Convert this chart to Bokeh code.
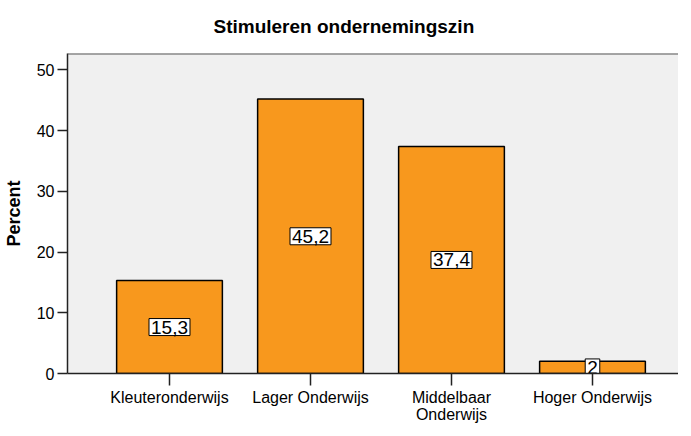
from bokeh.plotting import figure
from bokeh.models import ColumnDataSource, FixedTicker, Range1d, Span, Title
from bokeh.core.properties import value
from bokeh.embed import file_html
from bokeh.resources import INLINE

# ---- data ----
title_text = "Stimuleren ondernemingszin"
categories = ["Kleuteronderwijs", "Lager Onderwijs", "Middelbaar Onderwijs", "Hoger Onderwijs"]
tick_labels = ["Kleuteronderwijs", "Lager Onderwijs", "Middelbaar\nOnderwijs", "Hoger Onderwijs"]
percent = [15.3, 45.2, 37.4, 2.0]
y_ticks = [0, 10, 20, 30, 40, 50]

FONT = "Liberation Sans"
xs = list(range(1, len(categories) + 1))
Y_MAX = 52.7

src = ColumnDataSource(dict(
    x=xs,
    top=percent,
    mid=[v / 2 for v in percent],
    txt=[f"{v:g}".replace(".", ",") for v in percent],
    cat=categories,
))

p = figure(frame_width=611, frame_height=320, output_backend="svg", toolbar_location=None,
           x_range=Range1d(0.2766, 4.61), y_range=Range1d(0, Y_MAX),
           min_border_left=64, min_border_right=0, min_border_top=53, min_border_bottom=47)

p.background_fill_color = "#F0F0F0"
p.border_fill_color = "white"
p.outline_line_color = None
p.xgrid.visible = False
p.ygrid.visible = False

p.add_layout(Title(text=title_text, align="left", offset=146, standoff=30,
                   vertical_align="top",
                   text_font=FONT, text_font_size="19px", text_font_style="bold",
                   text_color="black"), "above")

p.vbar(x="x", top="top", bottom=0, width=0.75, source=src,
       fill_color="#F8981D", line_color="black", line_width=1.5)

p.text(x="x", y="mid", text="txt", source=src,
       text_align="center", text_baseline="middle",
       text_font=value(FONT), text_font_size="19px", text_color="black",
       background_fill_color="white", border_line_color="black",
       border_line_width=1, padding=2)

# top border of the plot area
p.add_layout(Span(location=Y_MAX, dimension="width", line_color="#555555", line_width=2))

# y axis
ya = p.yaxis[0]
ya.ticker = FixedTicker(ticks=y_ticks)
ya.minor_tick_line_color = None
ya.major_tick_out = 10
ya.major_tick_in = 0
ya.major_label_standoff = 3
ya.major_label_text_font = FONT
ya.major_label_text_font_size = "16px"
ya.major_label_text_color = "black"
ya.axis_label = "Percent"
ya.axis_label_text_font = FONT
ya.axis_label_text_font_size = "18px"
ya.axis_label_text_font_style = "bold"
ya.axis_label_text_color = "black"
ya.axis_label_standoff = 10
ya.axis_line_color = "#222222"
ya.axis_line_width = 1.5
ya.major_tick_line_color = "#222222"
ya.major_tick_line_width = 1.5

# x axis
xa = p.xaxis[0]
xa.ticker = FixedTicker(ticks=xs)
xa.major_label_overrides = {x: lab for x, lab in zip(xs, tick_labels)}
xa.minor_tick_line_color = None
xa.major_tick_out = 12
xa.major_tick_in = 0
xa.major_label_standoff = 3
xa.major_label_text_font = FONT
xa.major_label_text_font_size = "16px"
xa.major_label_text_color = "black"
xa.major_label_text_line_height = 1.0
xa.axis_line_color = "#222222"
xa.axis_line_width = 1.5
xa.major_tick_line_color = "#222222"
xa.major_tick_line_width = 1.5

open("out.html", "w").write(file_html(p, INLINE))
